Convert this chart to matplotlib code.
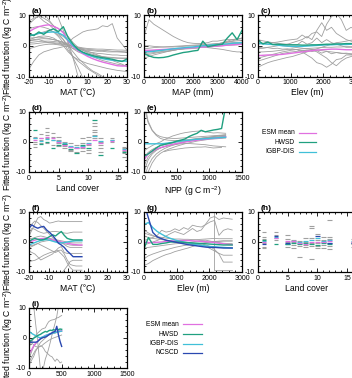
import matplotlib
matplotlib.use("Agg")
import matplotlib.pyplot as plt
import numpy as np
from matplotlib.lines import Line2D
from matplotlib.ticker import MultipleLocator

plt.rcParams["font.family"] = ["Liberation Sans", "DejaVu Sans"]
plt.rcParams["axes.unicode_minus"] = False
plt.rcParams["mathtext.fontset"] = "custom"
plt.rcParams["mathtext.rm"] = "Liberation Sans"

W, H = 352, 378
nan = np.nan

GRAY = "#a0a0a0"
C_ESM = "#e070e0"
C_HWSD = "#20a080"
C_IGBP = "#40c0d8"
C_NCSCD = "#2a48b0"

# (a) MAT, first set
a_x = [-20, -17.5, -15, -12.5, -10, -7.5, -5, -2.5, 0, 2.5, 5, 7.5, 10, 12.5, 15, 17.5, 20, 22.5, 25, 27.5, 30]
a_esm = [4.6, 5.5, 6.2, 6.6, 6.8, 6.3, 5.6, 4.2, 1.5, -0.3, -1.6, -2.6, -3.5, -4.2, -4.8, -5.3, -5.7, -6.1, -6.5, -6.6, -6.6]
a_hwsd = [3.8, 3.3, 4.5, 3.7, 4.9, 5.5, 4.6, 6.2, 2.6, 0.5, -1.2, -2.1, -2.7, -3.2, -3.6, -3.9, -4.1, -4.4, -4.8, -5.1, -4.3]
a_igbp = [3.2, 3.6, 4.0, 4.2, 4.4, 4.5, 4.2, 3.4, 1.8, 0.0, -1.3, -2.3, -3.0, -3.5, -3.9, -4.2, -4.5, -4.7, -4.9, -5.0, -5.0]
a_gray = [
    [12, 12, 12, 10.5, 8.5, 6.5, 4, 2, -0.5, -4, -7, -10.5, -12, -12, -12, -12, -12, -12, -12, -12, -12],
    [12, 12, 12, 12, 12, 12, 9, 5, 1, -4, -10, -12, -12, -12, -12, -12, -12, -12, -12, -12, -12],
    [-7.5, -5, -3, -2, -1.5, -1, -0.7, -0.3, 0, -0.3, -0.6, -0.9, -1.2, -1.3, -1.5, -1.5, -1.6, -1.8, -1.8, -1.9, -2],
    [1.5, 1.8, 2, 1.5, 1, 0.8, 0.5, 0.5, 1, 2.5, 3.5, 4.5, 5, 5.2, 5.5, 6.5, 6.2, 7.2, 2.5, 0.5, -1.5],
    [8, 9, 9.5, 8, 7, 5.5, 4, 3, 1.5, 0, -1, -1.5, -2, -2.2, -2.5, -2.6, -2.8, -3, -3, -3.2, -3.2],
    [2.5, 2.6, 2.8, 2.6, 2.4, 2, 1.6, 1, 0, -1, -2, -2.6, -3, -3.3, -3.5, -3.6, -3.8, -4, -4, -4.1, -4.1],
    [1, 1.2, 1.4, 1.5, 1.5, 1.4, 1.2, 0.8, 0.3, -0.3, -0.8, -1.2, -1.5, -1.6, -1.8, -1.8, -2, -2, -2, -2.1, -2.2],
    [0.5, 0.6, 0.8, 1, 1, 1, 0.8, 0.5, 0.2, -0.1, -0.4, -0.7, -0.9, -1, -1.1, -1.1, -1.2, -1.3, -1.4, -1.4, -1.5],
    [2, 2.5, 3, 3.2, 3, 2.5, 1.5, 0, -2, -3.5, -4.5, -5.2, -5.8, -6.2, -6.6, -7, -7.4, -7.7, -8, -8.2, -8.4],
    [5.5, 6, 6.3, 6, 5.5, 4.5, 3, 1, -1.5, -3.5, -5, -6.2, -7.5, -8.5, -9.5, -10.5, -12, -12, -12, -12, -12],
    [-1, -0.5, 0, 0.3, 0.5, 0.5, 0.3, 0, -0.3, -0.8, -1.5, -2.3, -3, -3.6, -4.2, -4.8, -5.2, -5.6, -6, -6.3, -6.5],
    [3, 3.5, 4, 4.5, 5, 4.5, 3.5, 2, 0, -2, -4, -5.5, -7, -8.2, -9, -10, -11, -12, -12, -12, -12],
    [7, 8.5, 9.8, 9, 8, 6.5, 5.5, 4.5, 3, 1, -0.5, -1.5, -2.3, -2.8, -3.2, -3.5, -3.7, -3.8, -4, -4, -4],
    [1.8, 2, 2.2, 2.3, 2.2, 2, 1.6, 1.2, 0.6, 0, -0.6, -1.2, -1.8, -2.4, -3, -3.6, -4.2, -4.8, -5.4, -6, -6.8],
]

# (b) MAP
b_x = [0, 200, 400, 600, 800, 1000, 1200, 1400, 1600, 1800, 2000, 2200, 2400, 2600, 2800, 3000, 3200, 3400, 3600, 3800, 4000]
b_esm = [-1.5, -1.5, -1.4, -1.3, -1.2, -1.1, -1.0, -0.9, -0.8, -0.7, -0.6, -0.5, -0.4, -0.3, -0.2, -0.1, 0.0, 0.2, 0.3, 0.4, 0.5]
b_hwsd = [-2.5, -3.3, -3.8, -3.9, -3.8, -3.5, -3.0, -2.6, -2.2, -2.0, -1.7, -1.5, 1.5, -0.3, 0.0, 0.3, 0.5, 2.5, 4.2, 2.0, 5.0]
b_igbp = [-2.0, -1.9, -1.8, -1.6, -1.4, -1.2, -1.0, -0.8, -0.7, -0.5, -0.4, -0.2, 0.0, 0.1, 0.3, 0.4, 0.5, 0.6, 0.8, 0.9, 1.0]
b_gray = [
    [3, 8.5, 7, 6, 5, 4, 3, 2.2, 1.5, 1, 0.8, 0.7, 0.8, 1, 1.5, 1.5, 1.8, 2, 2, 2.2, 2.3],
    [-3, -2.8, -2.5, -2.2, -2, -1.8, -1.5, -1.2, -1, -0.8, -0.6, -0.4, -0.2, 0, 0.3, 0.6, 1, 1.5, 2, 2.2, 2.5],
    [-2, -2, -1.8, -1.6, -1.4, -1.2, -1, -0.9, -0.8, -0.7, -0.6, -0.5, -0.5, -0.6, -0.8, -1, -1.2, -1.5, -1.8, -2, -2],
    [-1, -0.8, -0.6, -0.5, -0.4, -0.3, -0.2, -0.1, 0, 0.1, 0.2, 0.3, 0.4, 0.5, 0.6, 0.7, 0.8, 0.9, 1, 1.1, 1.2],
    [-4, -3.5, -3, -2.6, -2.2, -1.8, -1.5, -1.2, -1, -0.8, -0.6, -0.5, -0.3, -0.2, 0, 0.2, 0.3, 0.5, 0.6, 0.7, 0.8],
    [0, 0, -0.2, -0.3, -0.4, -0.4, -0.4, -0.3, -0.2, -0.1, 0, 0.1, 0.2, 0.3, 0.5, 0.7, 0.9, 1.2, 1.4, 1.6, 1.8],
    [-2.5, -2.4, -2.2, -2, -1.8, -1.6, -1.4, -1.2, -1.1, -1, -0.9, -0.8, 1.2, -0.5, -0.3, -0.2, 0, 0.1, 0.2, 0.3, 0.4],
    [-1.5, -1.5, -1.5, -1.4, -1.3, -1.2, -1.1, -1, -0.8, -0.6, -0.5, -0.3, -0.1, 0.1, 0.3, 0.5, 0.8, 1.2, 1.6, 2, 2.5],
]

# (c) Elevation, first set
c_x = [0, 150, 300, 450, 600, 750, 900, 1050, 1200, 1350, 1500, 1650, 1800, 1950, 2100, 2250, 2400, 2550, 2700, 2850, 3000]
c_esm = [-3.2, -3.1, -3.0, -3.0, -2.9, -2.8, -2.6, -2.4, -2.2, -2.0, -1.8, -1.6, -1.4, -1.3, -1.2, -1.1, -1.1, -1.2, -1.3, -1.3, -1.2]
c_hwsd = [1.8, 0.6, 1.2, 0.4, 0.5, 0.4, 0.3, 0.3, 0.3, 0.2, 0.2, 0.3, 0.3, 0.4, 0.5, 0.5, 0.6, 0.6, 0.7, 0.7, 0.7]
c_igbp = [0.8, 0.6, 0.5, 0.4, 0.2, 0.0, -0.1, -0.2, -0.2, -0.2, -0.1, 0.0, 0.1, 0.2, 0.3, 0.3, 0.4, 0.4, 0.4, 0.5, 0.5]
c_gray = [
    [-7, -6.2, -5.5, -5, -4.6, -4.2, -3.8, -3.5, -3, -2.5, -2, -1.5, -1, -0.5, 0, 0.5, 1, 1.2, 1.5, 1.8, 2],
    [0.5, 0.8, 1, 1, 1.2, 1.5, 1.8, 2, 2.2, 3.5, 2.5, 4, 4.5, 3, 7, 9.5, 10.5, 8.5, 5, 6, 5],
    [-1, -0.8, -0.5, -0.3, 0, 0.2, 0.5, 1, 1.5, 2, 3, 2, 5, 7.5, 5, 6, 4, 3, 2, 1.5, 1],
    [-2, -2, -1.9, -1.8, -1.6, -1.4, -1.2, -1, -1.3, -2, -3, -4, -5.5, -6, -7, -6, -4.5, -4.2, -3, -3, -3],
    [2, 1.6, 1.3, 1, 0.8, 0.6, 0.5, 0.3, 0.3, 1.5, 0.5, 1, 2.5, 1, 2, 1, 0.5, 0, -0.5, -0.5, -0.5],
    [-4, -3.6, -3.2, -2.8, -2.4, -2, -1.7, -1.4, -1.2, -1, -0.9, -0.8, -0.7, -0.6, -0.5, -0.5, -0.4, -0.4, -0.3, -0.3, -0.3],
    [1, 0.8, 0.6, 0.4, 0.2, 0, -0.2, -0.4, -0.6, -0.8, -1, -1.2, -1.4, -1.6, -1.8, -2, -2.2, -2.4, -2.6, -2.8, -3],
    [-0.5, -0.7, -0.6, -0.9, -0.8, -1.1, -1, -1.3, -1.2, -1.6, -1.4, -1.9, -1.6, -2.4, -1.8, -2.6, -2.2, -2.5, -2.4, -2.6, -2.5],
    [-5, -4.5, -4, -3.5, -3, -2.5, -2.2, -2, -1.8, -1.6, -1.5, -1.2, -2, -3, -4, -5.5, -6.5, -5, -4, -3.5, -3],
]

# (d) land cover, first set
d_class = [1, 2, 3, 4, 5, 6, 7, 8, 9, 10, 11, 12, 14, 16]
d_gray = [
    [1.8, 1.2, 0.1, -0.8, -1.6],
    [2.6, 1.5, 0.7, -0.3],
    [4.6, 3.3, 2.4, 1.5, -0.4],
    [2.9, 1.8, 0.6, -1.0],
    [1.8, 0.7, -0.4, -1.2],
    [0.1, -0.8, -1.3, -2.0],
    [-0.4, -1.6, -2.5, -3.0],
    [-1.0, -2.1, -3.3],
    [1.2, -0.4, -1.9, -3.0],
    [1.8, 0.7, -1.0, -2.7, -3.5],
    [6.3, 5.2, 4.0, 3.3, 2.4, 1.5],
    [1.2, 0.1, -1.0, -2.1, -3.3],
    [1.2, 0.7, 0.1],
    [-1.6, -2.1, -3.0, -3.8, -4.9],
]
d_esm = [0.7, 1.2, 1.8, 1.2, 0.1, -1.0, -1.6, -1.9, -1.6, -0.8, 0.7, -0.3, 0.4, -2.7]
d_hwsd = [4.0, -0.8, 0.0, -2.1, -1.0, -0.6, -2.2, -3.8, -1.0, -2.0, 7.4, -4.2, -2.1, -3.4]
d_igbp = [1.4, 0.5, 1.0, 0.8, 0.4, -0.4, -1.2, -1.5, -1.2, -0.4, 2.0, 0.2, 0.6, -2.2]

# (e) NPP
e_x = [0, 62.5, 125, 187.5, 250, 312.5, 375, 437.5, 500, 562.5, 625, 687.5, 750, 812.5, 875, 937.5, 1000, 1062.5, 1125, 1187.5, 1250]
e_esm = [-6, -4, -3.1, -2.4, -1.9, -1.5, -1.1, -0.8, -0.5, -0.3, 0, 0.2, 0.4, 0.6, 0.8, 0.9, 1.1, 1.2, 1.3, 1.5, 1.7]
e_hwsd = [-4.8, -4, -3, -2, -1.1, -0.8, -0.5, -0.2, 0.3, 0.6, 1.0, 1.8, 2.4, 2.9, 3.9, 3.4, 3.7, 4.0, 4.2, 4.5, 12]
e_igbp = [-0.6, -0.6, -0.6, -0.6, -0.6, -0.5, -0.3, -0.1, 0.1, 0.3, 0.5, 0.6, 0.8, 0.9, 1.0, 1.1, 1.2, 1.3, 1.4, 1.5, 1.6]
e_gray = [
    [14, 7, 4, 2.5, 1.8, 1.5, 1.3, 1.2, 1.2, 1.3, 1.4, 1.5, 1.6, 1.7, 1.8, 1.9, 2, 2.1, 2.2, 2.3, 2.4],
    [12, 6.5, 3.8, 2.2, 1.2, 0.8, 0.6, 0.5, 0.5, 0.6, 0.7, 0.8, 1, 1.2, 1.3, 1.4, 1.5, 1.6, 1.7, 1.8, 1.9],
    [-12, -8, -5.5, -4, -3, -2.2, -1.6, -1.1, -0.7, -0.3, 0, 0.3, 0.5, 0.7, 0.9, 1.1, 1.3, 1.5, 1.6, 1.7, 1.8],
    [-12, -10, -7, -5, -3.8, -3, -2.4, -1.9, -1.4, -1, -0.6, -0.3, 0, 0.3, 0.5, 0.7, 0.9, 1.0, 1.1, 1.2, 1.3],
    [-3, -2, -1.2, -0.5, 0, 0.8, 1.4, 2, 2.4, 2.8, 3.1, 3.3, 3.5, 3.6, 3.7, 3.4, 3.2, 3.0, 3.1, 3.0, 2.9],
    [-8, -5, -3.5, -2.6, -2, -1.6, -1.3, -1, -0.8, -0.6, -0.5, -0.5, -0.6, -0.7, -0.8, -0.9, -1.1, -1.3, -1.4, -1.5, -1.6],
    [-5, -3.5, -2.5, -1.8, -1.3, -0.9, -0.6, -0.3, 0, 0.2, 0.4, 0.6, 0.8, 1, 1.2, 1.4, 1.6, 1.8, 2, 2.1, 2.2],
    [-10, -6, -4, -2.8, -2, -1.5, -1.1, -0.8, -0.5, -0.2, 0.1, 0.4, 0.7, 1, 1.2, 1.4, 1.6, 1.8, 2, 2.2, 2.4],
    [nan, nan, nan, nan, nan, -3.2, -2.8, -2.6, -2.4, -2.2, -2.0, -1.9, -1.8, -1.7, -1.7, -1.6, -1.8, -2.0, -1.9, -1.8, nan],
]

# (f) MAT, second set
f_x = [-20, -18.5, -17, -15.5, -14, -12.5, -11, -9.5, -8, -6.5, -5, -3.5, -2, -0.5, 1, 2.5, 4, 5.5, 7]
f_esm = [0, 0.3, 0.6, 0.9, 1.1, 1.2, 1.2, 1.0, 0.7, 0.4, 0.2, 0, -0.2, -0.4, -0.6, -0.8, -0.9, -1.0, -1.0]
f_hwsd = [0.1, 0.8, 1.2, 0.9, 0.7, 0.8, 1.2, 1.8, 2.4, 2.0, 2.8, 3.5, 2.2, 1.2, 0.9, 0.7, 0.7, 0.7, 0.7]
f_igbp = [-1, -0.6, -0.2, 0.2, 0.5, 0.7, 0.8, 0.6, 0.3, 0, -0.2, -0.3, -0.2, 0, 0.2, 0.3, 0.4, 0.4, 0.4]
f_ncscd = [4.6, 5.7, 5.0, 4.6, 5.0, 5.2, 4.0, 3.2, 2.2, 1.0, -0.4, -1.0, -1.8, -3.0, -3.9, -4.9, -4.9, -4.9, -4.9]
f_gray = [
    [2, 4, 6, 8, 8.5, 7.5, 7, 6.3, 6.5, 6.8, 7, 6.8, 6.8, 6.8, 6.8, 6.8, 6.8, 6.8, 6.8],
    [-6.6, -6.3, -6.1, -5.6, -5, -4.4, -4, -3.6, -3.3, -3, -2.8, -2.7, -4, -6, -7.5, -7.8, -8, -8, -8],
    [-12, -12, -12, -12, -12, -12, -12, -12, -12, -12, -11, -10.5, -9.3, -8, -6.5, -6.1, -6.1, -6.1, -6.1],
    [3, 4.6, 4.2, 3.6, 3.2, 2.9, 3.1, 3.3, 3.5, 3.5, 3.4, 3.2, 3.0, 2.9, 3.1, 3.3, 3.3, 3.3, 3.3],
    [5, 6, 7, 6.5, 5.5, 4.6, 3.5, 2.5, 1.5, 0.8, 0.3, -0.2, -0.8, -1.5, -1.8, -1.8, -1.8, -1.8, -1.8],
    [-2, -1.5, -1, -0.5, 0, 0.2, 0.4, 0.5, 0.4, 0.2, 0, -0.3, -0.6, -0.8, -1, -1.1, -1.1, -1.1, -1.1],
    [1, 1.2, 1.5, 1.8, 2, 1.8, 1.5, 1.2, 1, 0.8, 0.6, 0.4, 0.2, 0, -0.2, -0.3, -0.3, -0.3, -0.3],
    [-3, -3.5, -4, -5, -6, -5.5, -5, -4.5, -4, -3, -2, -1.5, -3.5, -3.8, -3.8, -3.8, -3.8, -3.8, -3.8],
    [-1, -1.2, -0.8, -0.5, -1, -1.5, -2, -2.5, -3, -3.5, -3, -4, -5, -7, -8.5, -9.4, -9.4, -9.4, -9.4],
]

# (g) Elevation, second set
g_x = [0, 135, 270, 405, 540, 675, 810, 945, 1080, 1215, 1350, 1485, 1620, 1755, 1890, 2025, 2160, 2295, 2430, 2565, 2700]
g_esm = [0, -0.2, -0.2, -0.1, 0, 0.2, 0.3, 0.4, 0.5, 0.5, 0.5, 0.4, 0.3, 0.2, 0.1, 0, -0.2, -0.4, -0.6, -0.8, -0.9]
g_hwsd = [-2.2, 1.5, -0.8, -0.8, -0.5, -0.3, 0, 0, 0, -0.1, -0.2, -0.3, -0.4, -0.5, -0.6, -0.7, -0.8, -0.9, -1.0, -1.0, -1.0]
g_igbp = [5.8, 6.5, 4.8, 3.5, 2.6, 1.8, 1.2, 0.7, 0.3, 0, -0.3, -0.6, -0.9, -1.1, -1.3, -1.5, -1.6, -1.7, -1.8, -1.9, -2.0]
g_ncscd = [13, 8, 3.2, 1.7, 1.1, 0.6, 0.3, 0, -0.3, -0.6, -0.9, -1.1, -1.3, -1.5, -1.7, -1.8, -1.8, -1.9, -2, -2, -2]
g_gray = [
    [-7.8, -7.2, -6.2, -5.5, -4.8, -4.2, -3.8, -3.2, -2.8, -2.4, -2, -1.5, -1.0, -0.6, -0.3, 0, 0.2, 0.3, 0.4, 0.4, 0.4],
    [-5.6, -4.6, -4, -3.5, -3, -2.6, -2.2, -1.8, -1.5, -1.2, -1, -0.8, -0.6, -0.4, -0.2, 0, 0.1, 0.2, 0.3, 0.3, 0.3],
    [0.5, 1, 1.5, 2.2, 3.9, 3.3, 3.6, 4.4, 3.8, 4.8, 4.2, 5.6, 5.2, 5, 5.8, 6.7, 7.2, 2.2, 3.9, 4.4, 4],
    [2, 1.5, 1.2, 1, 0.8, 0.6, 0.4, 0.2, 0, -0.2, -0.3, -0.4, -0.5, -0.6, -1, -1.5, -2.5, -4, -6.7, -6.7, -6.7],
    [-2, -1.8, -1.6, -1.4, -1.2, -1, -0.8, -0.6, -0.5, -0.4, -0.5, -0.6, -0.8, -1, -1.5, -2.2, -3, -3.8, -4.4, -4.4, -4.4],
    [3, 2.5, 2, 1.8, 1.5, 1.3, 1.1, 1, 1, 0.9, 0.9, 0.8, 0.8, 0.9, 1, 1.1, 1.2, 1.1, 1.1, 1.1, 1.1],
    [4, 3, 2.2, 1.5, 1, 0.6, 0.3, 0, -0.2, -0.3, -0.2, 0, 0.3, 0.5, 0.6, 0.3, 0, -0.2, -0.4, -0.5, -0.5],
    [-1, -0.5, 0, 0.5, 1.2, 2, 2.8, 3.5, 3, 2.5, 3.5, 4.5, 3.5, 4, 6, 8, 8.5, 7.5, 8, 7.8, 7.6],
]
g_jump_x = [1500, 2150, 2150, 2700]
g_jump_y = [12, 12, -9.2, -9.2]

# (h) land cover, second set
h_class = [1, 3, 5, 6, 7, 8, 9, 10, 11, 12, 16]
h_gray = [
    [3.3, 1.8, 1.0, -0.4, -1.6, -2.1],
    [3.2, 2.4, 1.5, 0.7],
    [2.4, 1.0, 0.1, -0.8, -1.6],
    [0.7, -0.1, -1.0, -1.9],
    [0.4, -0.4, -1.2, -4.9],
    [1.2, 0.1, -1.0, -1.6],
    [5.5, 4.6, 1.2, -0.4, -1.2, -5.5],
    [2.6, 0.7, -0.2, -1.2, -2.1],
    [1.8, 0.7, -0.1, -1.0, -1.9],
    [7.3, 1.8, 0.9, -0.4, -1.3, -2.4],
    [1.0, 0.1, -0.8, -1.7],
]
h_esm = [0.1, 1.5, 0.3, 0.2, -0.2, -0.5, 0.1, -0.1, 0.1, 0.3, 0.1]
h_hwsd = [0.7, -0.8, -0.6, -0.3, -0.8, -0.2, -0.8, -1.0, -0.4, -0.5, -0.2]
h_igbp = [0.4, 1.8, -0.5, 0.3, 0.0, 0.5, 0.6, 1.3, 0.4, 0.8, 0.5]
h_ncscd = [-0.6, 2.0, -0.2, nan, nan, nan, nan, 2.0, nan, -0.3, -0.4]

# (i) fourth row
i_x = [0, 25, 50, 75, 100, 125, 150, 175, 200, 225, 250, 275, 300, 325, 350, 375, 400, 425, 450, 475, 500]
i_esm = [-5, -4.5, -3.5, -2.5, -1.8, -1.2, -0.6, -0.2, 0.2, 0.5, 0.8, 1.0, 1.2, 1.4, 1.6, 1.8, 2.0, 2.1, 2.2, 2.3, 2.4]
i_hwsd = [nan, -1, -0.5, 0, 0.3, 0.7, 1.0, 1.2, 1.6, 1.9, 2.2, 2.0, 2.4, 2.6, 2.5, 2.8, 2.6, 3.0, 2.8, 3.0, 2.9]
i_igbp = [2.2, 1.8, 1.4, 1.1, 0.8, 0.5, 0.2, 0.1, 0.3, 0.5, 0.8, 1.0, 1.2, 1.4, 1.5, 1.7, 1.8, 2.0, 2.1, 2.2, 2.3]
i_ncscd = [-1.4, -1.4, -1.4, -1.4, -1.4, -1.3, -0.8, -0.3, 0, 0.2, 0.3, 0.6, 1.0, 1.4, 1.7, 2.0, 2.2, 3.9, 1.1, -1.1, -2.8]
i_gray = [
    [16, 15, 13, 10, 5, 0.5, -5, -10.5, -12, -12, -12, -12, -12, -12, -12, -12, -12, -12, -12, -12, -12],
    [-12, -12, -12, -12, -12, -12, -12, -12, -12, -9.5, -7, -5.5, -3.6, -1.5, 0.8, 3, 5, 7.2, 10.5, 12, 12],
    [-8, -7, -6, -5, -4, -3.5, -3, -2.6, -2.8, -3.5, -4.5, -5, -5.5, -6, -6.2, -7, -7.8, -7, -7.5, -8.3, -8],
    [-3, -2, -1, 0, 0.8, 1.5, 2, 2.5, 3, 3.2, 3.4, 4.5, 5.4, 5.8, 6, 6.1, 6.3, 6.7, 6.8, 7.2, 7.5],
    [-7, -5.5, -4, -2.8, -2, -1.4, -0.8, -0.4, 0, 0.3, 0.6, 0.8, 1.0, 1.2, 1.4, 1.5, 1.6, 1.8, 2.0, 2.1, 2.2],
    [-9, -8, -7, -6, -4.5, -3.5, -2.5, -1.5, -1, -0.5, 0, 0.5, 1, 1.2, 1.5, 1.8, 2, 2.2, 2.5, 2.6, 2.8],
    [0, -1, -1.8, -2.4, -2.8, -3, -3, -2.8, -2.5, -2, -1.6, -1.2, -0.8, -0.5, -0.2, 0, 0.2, 0.4, 0.6, 0.8, 1],
]

YLABEL = r"Fitted function (kg C m$^{-2}$)"


def px_axes(fig, left, top, right, bottom):
    return fig.add_axes([left / W, 1 - bottom / H, (right - left) / W, (bottom - top) / H])


def style(ax, tag, xlim, xmajor, xminor, xlabel):
    ax.set_xlim(*xlim)
    ax.set_ylim(-10, 10)
    ax.set_yticks([-10, 0, 10])
    ax.yaxis.set_minor_locator(MultipleLocator(2))
    ax.xaxis.set_major_locator(MultipleLocator(xmajor))
    ax.xaxis.set_minor_locator(MultipleLocator(xminor))
    ax.tick_params(which="both", direction="in", top=True, right=True, labelsize=5.0, pad=2, width=0.6)
    ax.tick_params(which="major", length=2.6)
    ax.tick_params(which="minor", length=1.4)
    for s in ax.spines.values():
        s.set_linewidth(0.9)
    if xlabel:
        ax.set_xlabel(xlabel, fontsize=6.2, labelpad=1.5)
    ax.text(0.03, 1.0, tag, transform=ax.transAxes, fontsize=6, fontweight="bold", va="bottom", ha="left")


def draw_curves(ax, x, grays, colored):
    for g in grays:
        ax.plot(x, g, color=GRAY, lw=0.6)
    for y, c in colored:
        ax.plot(x, y, color=c, lw=1.0)


def draw_dashes(ax, classes, grays, colored):
    for cl, vals in zip(classes, grays):
        ax.hlines(vals, cl - 0.38, cl + 0.38, color=GRAY, lw=0.8)
    for vals, c in colored:
        ax.hlines(vals, np.array(classes) - 0.38, np.array(classes) + 0.38, color=c, lw=0.9)


def legend(fig, names, colors, text_right, line_left, line_right, ys):
    for name, c, y in zip(names, colors, ys):
        fig.text(text_right / W, 1 - y / H, name, fontsize=4.8, ha="right", va="center")
        fig.add_artist(Line2D([line_left / W, line_right / W], [1 - y / H, 1 - y / H],
                              transform=fig.transFigure, color=c, lw=0.9))


fig = plt.figure(figsize=(W / 100, H / 100), dpi=100)

cols = [(29, 127), (144, 242), (258, 356)]
rows = [(15, 76.5), (112, 172), (212, 272), (308, 368)]

ax = px_axes(fig, cols[0][0], rows[0][0], cols[0][1], rows[0][1])
draw_curves(ax, a_x, a_gray, [(a_esm, C_ESM), (a_igbp, C_IGBP), (a_hwsd, C_HWSD)])
style(ax, "(a)", (-20, 30), 10, 2, "MAT (°C)")

ax = px_axes(fig, cols[1][0], rows[0][0], cols[1][1], rows[0][1])
draw_curves(ax, b_x, b_gray, [(b_esm, C_ESM), (b_igbp, C_IGBP), (b_hwsd, C_HWSD)])
style(ax, "(b)", (0, 4000), 1000, 200, "MAP (mm)")

ax = px_axes(fig, cols[2][0], rows[0][0], cols[2][1], rows[0][1])
draw_curves(ax, c_x, c_gray, [(c_esm, C_ESM), (c_igbp, C_IGBP), (c_hwsd, C_HWSD)])
style(ax, "(c)", (0, 3000), 1000, 200, "Elev (m)")

ax = px_axes(fig, cols[0][0], rows[1][0], cols[0][1], rows[1][1])
draw_dashes(ax, d_class, d_gray, [(d_igbp, C_IGBP), (d_hwsd, C_HWSD), (d_esm, C_ESM)])
style(ax, "(d)", (0, 16.5), 5, 1, "Land cover")

ax = px_axes(fig, cols[1][0], rows[1][0], cols[1][1], rows[1][1])
draw_curves(ax, e_x, e_gray, [(e_esm, C_ESM), (e_igbp, C_IGBP), (e_hwsd, C_HWSD)])
style(ax, "(e)", (0, 1500), 500, 100, r"NPP (g C m$^{-2}$)")

ax = px_axes(fig, cols[0][0], rows[2][0], cols[0][1], rows[2][1])
draw_curves(ax, f_x, f_gray, [(f_esm, C_ESM), (f_igbp, C_IGBP), (f_hwsd, C_HWSD), (f_ncscd, C_NCSCD)])
style(ax, "(f)", (-20, 30), 10, 2, "MAT (°C)")

ax = px_axes(fig, cols[1][0], rows[2][0], cols[1][1], rows[2][1])
ax.plot(g_jump_x, g_jump_y, color=GRAY, lw=0.6)
draw_curves(ax, g_x, g_gray, [(g_esm, C_ESM), (g_igbp, C_IGBP), (g_hwsd, C_HWSD), (g_ncscd, C_NCSCD)])
style(ax, "(g)", (0, 3000), 1000, 200, "Elev (m)")

ax = px_axes(fig, cols[2][0], rows[2][0], cols[2][1], rows[2][1])
draw_dashes(ax, h_class, h_gray, [(h_igbp, C_IGBP), (h_hwsd, C_HWSD), (h_ncscd, C_NCSCD), (h_esm, C_ESM)])
style(ax, "(h)", (0, 16.5), 5, 1, "Land cover")

ax = px_axes(fig, cols[0][0], rows[3][0], cols[0][1], rows[3][1])
draw_curves(ax, i_x, i_gray, [(i_esm, C_ESM), (i_igbp, C_IGBP), (i_hwsd, C_HWSD), (i_ncscd, C_NCSCD)])
style(ax, "(i)", (0, 1500), 500, 100, None)

# shared y labels for the left column
for top, bottom in rows:
    fig.text(8 / W, 1 - (top + bottom) / 2 / H, YLABEL, rotation=90, fontsize=6.2, ha="center", va="center")

legend(fig, ["ESM mean", "HWSD", "IGBP-DIS"], [C_ESM, C_HWSD, C_IGBP], 295, 299, 316, [132.7, 142.3, 151.7])
legend(fig, ["ESM mean", "HWSD", "IGBP-DIS", "NCSCD"], [C_ESM, C_HWSD, C_IGBP, C_NCSCD],
       179, 183, 202, [324.3, 334, 343.7, 353])

fig.savefig("out.png", dpi=100)
